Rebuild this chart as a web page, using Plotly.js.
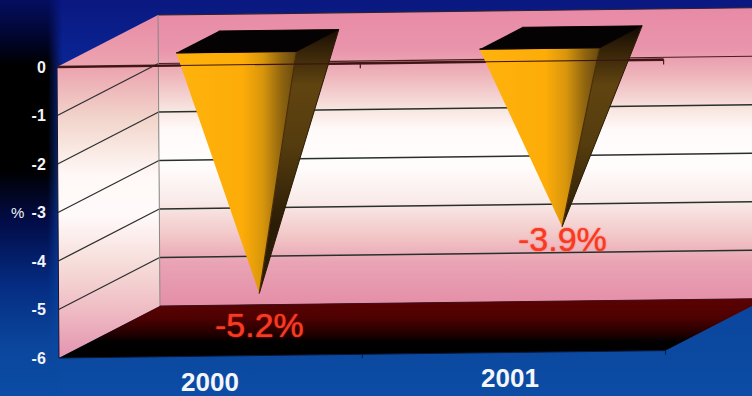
<!DOCTYPE html>
<html>
<head>
<meta charset="utf-8">
<script src="https://cdn.plot.ly/plotly-3.0.1.min.js"></script>
<style>
  html, body { margin: 0; padding: 0; width: 752px; height: 396px; overflow: hidden; }
  #backdrop { position: absolute; left: 0; top: 0; width: 752px; height: 396px;
    background: linear-gradient(to bottom, #0a1880 0px, #0a2290 50px, #0a3a98 200px, #0b48a0 340px, #0c4ca4 396px); }
  #sidebar { position: absolute; left: 0; top: 0; width: 62px; height: 396px;
    -webkit-mask-image: linear-gradient(to right, #000 48px, transparent 62px);
    background: linear-gradient(to bottom, #040e60 0px, #01052a 40px, #000 65px, #000 170px, #020c48 222px, #052c82 285px, #0a469c 345px, #0c4ca4 396px); }
  #chart { position: absolute; left: 0; top: 0; width: 752px; height: 396px; }
</style>
</head>
<body>
<div id="backdrop"></div>
<div id="sidebar"></div>
<div id="chart"></div>
<script>
// Annual change in per cent
const categories = ['2000', '2001'];
const values = [-5.2, -3.9];
const valueTicks = [0, -1, -2, -3, -4, -5, -6];

// Oblique projection of the 3D box onto the flat axes
const PX_PER_CAT = 303.3, PX_PER_VAL = 48.5;
const DEPTH_X = 101 / PX_PER_CAT, DEPTH_Y = 52 / PX_PER_VAL;
const TILT = 3.7 / PX_PER_VAL, SHEAR = -0.33 / PX_PER_CAT;
const CAT_MIN = -0.5, CAT_MAX = 1.5, VAL_MIN = -6, VAL_MAX = 0;

function project(cat, val, depth) {
  return [cat + depth * DEPTH_X + val * SHEAR,
          val + depth * DEPTH_Y + (cat - CAT_MIN) * TILT];
}
function path(points) {
  const p = points.map(q => project(q[0], q[1], q[2]));
  return { x: p.map(q => q[0]), y: p.map(q => q[1]) };
}
function pxToVal(py) { return (67 - py) / PX_PER_VAL; }
function scale(stops) { return stops.map(s => [(s[0] - stops[0][0]) / (stops[stops.length - 1][0] - stops[0][0]), s[1]]); }

function poly(points, style) {
  return Object.assign({ type: 'scatter', mode: 'lines', fill: 'toself', hoverinfo: 'skip',
    showlegend: false, line: { width: 0, color: 'rgba(0,0,0,0)' } }, path(points), style);
}
function vGrad(stops) {
  return { type: 'vertical', start: pxToVal(stops[0][0]), stop: pxToVal(stops[stops.length - 1][0]), colorscale: scale(stops) };
}
function seg(points, color, width) {
  return Object.assign({ type: 'scatter', mode: 'lines', hoverinfo: 'skip', showlegend: false,
    line: { color: color, width: width } }, path(points));
}

const traces = [];

// Back wall
traces.push(poly(
  [[CAT_MIN, VAL_MAX, 1], [CAT_MAX, VAL_MAX, 1], [CAT_MAX, VAL_MIN, 1], [CAT_MIN, VAL_MIN, 1]],
  { fillgradient: vGrad([[8, '#e88aa6'], [50, '#e995ac'], [75, '#eeb4ba'], [110, '#f8e6e0'], [130, '#fffafa'],
                         [165, '#fffdfc'], [200, '#f9ecea'], [235, '#f2c8c8'], [262, '#e9a4b4'], [305, '#e48ea8']]) }));

// Side wall
traces.push(poly(
  [[CAT_MIN, VAL_MAX, 0], [CAT_MIN, VAL_MAX, 1], [CAT_MIN, VAL_MIN, 1], [CAT_MIN, VAL_MIN, 0]],
  { fillgradient: vGrad([[14, '#e88aa6'], [70, '#eca6b0'], [120, '#f2d6cc'], [175, '#fff8f6'], [215, '#fffafa'],
                         [265, '#f6dcd8'], [310, '#efbcc4'], [358, '#e493b0']]) }));

// Floor
traces.push(poly(
  [[CAT_MIN, VAL_MIN, 0], [CAT_MIN, VAL_MIN, 1], [CAT_MAX, VAL_MIN, 1], [CAT_MAX, VAL_MIN, 0]],
  { fillgradient: vGrad([[298, '#5c0202'], [318, '#4e0101'], [335, '#1e0000'], [342, '#000000'], [358, '#000000']]) }));

// Gridlines across the back wall and down the side wall
valueTicks.slice(1, 6).forEach(v => {
  traces.push(seg([[CAT_MIN, v, 1], [CAT_MAX, v, 1]], v === -1 ? '#4a1c1c' : '#28302c', v === -1 ? 1.2 : 1.5));
  traces.push(seg([[CAT_MIN, v, 0], [CAT_MIN, v, 1]], '#2c3030', 1.3));
});
traces.push(seg([[CAT_MIN, VAL_MAX, 1], [CAT_MAX, VAL_MAX, 1]], '#302030', 1.2));
traces.push(seg([[CAT_MIN, VAL_MAX, 1], [CAT_MIN, VAL_MIN, 1]], '#8c8c84', 1));
traces.push(seg([[CAT_MIN, VAL_MIN, 1], [CAT_MAX, VAL_MIN, 1]], '#401018', 1));

// Heavy part of the category axis, passing behind the pyramids
traces.push(seg([[CAT_MIN, 0, 0], [CAT_MAX, 0, 0]], '#4a1c1c', 2.6));

// Inverted pyramids, one per year
const HALF_W = 0.198, HALF_D = 0.21, MID_D = 0.46, CAT_NUDGE = 0.008;
values.forEach((v, i) => {
  const c = i + CAT_NUDGE;
  const fl = [c - HALF_W, 0, MID_D - HALF_D], fr = [c + HALF_W, 0, MID_D - HALF_D];
  const bl = [c - HALF_W, 0, MID_D + HALF_D], br = [c + HALF_W, 0, MID_D + HALF_D];
  const apex = [c, v, MID_D];
  const [xl] = project(fl[0], 0, fl[2]);
  const [xr] = project(fr[0], 0, fr[2]);

  traces.push(poly([fr, br, apex], {
    line: { width: 1, color: '#2a1a04' },
    fillgradient: { type: 'vertical', start: pxToVal(25), stop: pxToVal(225), colorscale: [
      [0, '#100804'], [0.12, '#342208'], [0.3, '#604410'], [0.6, '#553c0e'], [1, '#2a1c06']] }
  }));
  traces.push(poly([fl, fr, apex], {
    line: { width: 1.2, color: '#4a2c06' },
    fillgradient: { type: 'horizontal', start: xl, stop: xr, colorscale: [
      [0, '#ffb20c'], [0.55, '#fdac08'], [0.72, '#d8960c'], [0.88, '#8e6410'], [1, '#664810']] }
  }));
  traces.push(poly([fl, fr, br, bl], { fillcolor: '#040202', line: { width: 1, color: '#0a0402' } }));
});

// Category axis on the front plane, and its floor edge
traces.push(seg([[CAT_MIN, 0, 0], [CAT_MAX, 0, 0]], '#3a1414', 1.1));
traces.push(seg([[CAT_MIN, VAL_MIN, 0], [CAT_MAX, VAL_MIN, 0]], '#08183c', 1));
traces.push(seg([[CAT_MIN, VAL_MIN, 0], [CAT_MIN, VAL_MAX, 0]], '#1a1030', 1));
[CAT_MIN + 1, CAT_MAX].forEach(c => {
  traces.push(seg([[c, 0, 0], [c, -0.1, 0]], '#4a1c1c', 1.2));
  traces.push(seg([[c, VAL_MIN, 0], [c, VAL_MIN - 0.08, 0]], '#08183c', 1));
});

const LEFT = 57;
const xSpan = (752 - LEFT) / PX_PER_CAT;
const FONT = 'Liberation Sans, Arial, sans-serif';

// Value labels below each apex
const labelShift = [32, 12];
const annotations = values.map((v, i) => {
  const p = project(i + CAT_NUDGE, v, MID_D);
  return {
    x: p[0], y: p[1], xref: 'x', yref: 'y', showarrow: false,
    text: v.toFixed(1) + '%', yanchor: 'middle', xanchor: 'center', yshift: -labelShift[i],
    font: { family: FONT, size: 34, color: '#f93a22', shadow: '0 0 1.5px #f93a22' }
  };
});

// Year labels under the floor
const yearShift = [-1, -4];
categories.forEach((c, i) => {
  const p = project(i, VAL_MIN - 0.53, 0);
  annotations.push({
    x: p[0], y: p[1], xref: 'x', yref: 'y', showarrow: false, xshift: yearShift[i],
    text: c, yanchor: 'middle', xanchor: 'center',
    font: { family: FONT, size: 26, color: '#f4f6fa', weight: 700 }
  });
});

// Unit beside the value axis
annotations.push({
  xref: 'paper', yref: 'y', x: 17 / 752, y: -3.0, xanchor: 'center', yanchor: 'middle', showarrow: false,
  text: '%', font: { family: FONT, size: 15, color: '#f0f2f8' }
});

const layout = {
  width: 752, height: 396,
  margin: { l: 0, r: 0, t: 0, b: 0, pad: 0 },
  paper_bgcolor: 'rgba(0,0,0,0)', plot_bgcolor: 'rgba(0,0,0,0)',
  showlegend: false,
  xaxis: { domain: [LEFT / 752, 1], range: [CAT_MIN, CAT_MIN + xSpan], visible: false, fixedrange: true },
  yaxis: {
    range: [pxToVal(396), pxToVal(0)], tickvals: valueTicks, ticktext: valueTicks.map(String),
    showgrid: false, zeroline: false, showline: false, ticks: 'outside', ticklen: 7,
    tickcolor: 'rgba(0,0,0,0)', fixedrange: true, anchor: 'x',
    tickfont: { family: FONT, size: 16, color: '#f2f4f8', weight: 700 }
  },
  annotations: annotations
};

Plotly.newPlot('chart', traces, layout, { staticPlot: true, displayModeBar: false });
</script>
</body>
</html>
